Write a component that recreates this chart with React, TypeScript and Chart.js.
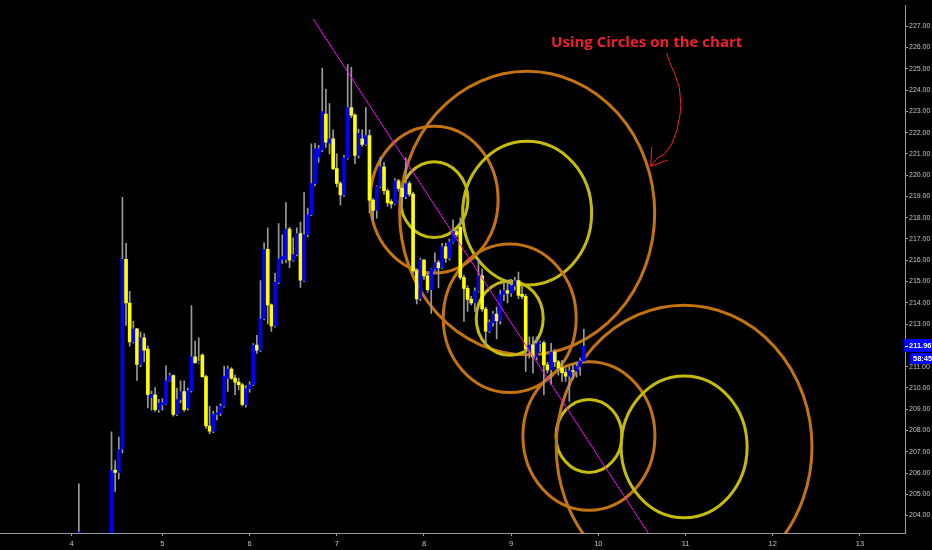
import React, { useEffect, useRef } from "react";
import { Chart, registerables } from "chart.js";

Chart.register(...registerables);

// ---- axis data ----
const dayTickBars = [0, 25, 49, 73, 97, 121, 145, 169, 193, 217];
const dayTickLabels = ["4", "5", "6", "7", "8", "9", "10", "11", "12", "13"];
const priceTicks = [204, 205, 206, 207, 208, 209, 210, 211, 212, 213, 214, 215, 216, 217, 218, 219, 220, 221, 222, 223, 224, 225, 226, 227];

// ---- hourly candles (bar index, OHLC) ----
const barIdx = [
  2, 11, 12, 13, 14, 15, 16, 17, 18, 19,
  20, 21, 22, 23, 24, 25, 26, 27, 28, 29,
  30, 31, 32, 33, 34, 35, 36, 37, 38, 39,
  40, 41, 42, 43, 44, 45, 46, 47, 48, 49,
  50, 51, 52, 53, 54, 55, 56, 57, 58, 59,
  60, 61, 62, 63, 64, 65, 66, 67, 68, 69,
  70, 71, 72, 73, 74, 75, 76, 77, 78, 79,
  80, 81, 82, 83, 84, 85, 86, 87, 88, 89,
  90, 91, 92, 93, 94, 95, 96, 97, 98, 99,
  100, 101, 102, 103, 104, 105, 106, 107, 108, 109,
  110, 111, 112, 113, 114, 115, 116, 117, 118, 119,
  120, 121, 122, 123, 124, 125, 126, 127, 128, 129,
  130, 131, 132, 133, 134, 135, 136, 137, 138, 139,
  140, 141,
];
const opens = [
  203.0, 202.9, 206.14, 206.03, 207.12, 216.04, 213.99, 212.16, 212.78, 211.11,
  212.35, 211.82, 209.55, 209.68, 208.98, 209.2, 209.24, 210.33, 210.58, 208.75,
  209.45, 209.83, 209.06, 209.87, 211.46, 211.19, 211.54, 210.53, 208.21, 207.97,
  208.75, 208.8, 209.14, 210.46, 210.89, 210.46, 210.27, 210.15, 209.22, 209.96,
  210.15, 212.01, 211.76, 213.25, 216.51, 213.9, 212.91, 214.96, 216.04, 216.04,
  217.47, 216.01, 216.27, 217.25, 215.04, 217.2, 218.14, 219.61, 220.85, 221.19,
  222.87, 221.51, 221.71, 220.31, 219.61, 219.07, 220.81, 223.18, 222.82, 220.93,
  221.71, 221.44, 221.86, 218.83, 218.34, 219.46, 220.39, 219.27, 218.76, 218.65,
  219.74, 219.38, 218.99, 219.61, 219.11, 215.5, 214.22, 216.01, 215.27, 214.62,
  215.57, 215.89, 215.65, 216.63, 216.1, 216.85, 217.35, 217.55, 215.19, 214.68,
  214.16, 214.0, 214.55, 215.27, 213.71, 212.67, 213.07, 213.47, 213.16, 214.39,
  214.58, 214.45, 214.8, 215.05, 214.4, 214.3, 211.78, 212.01, 211.46, 212.08,
  212.12, 211.08, 210.85, 211.69, 211.23, 210.94, 210.72, 210.55, 210.8, 210.77,
  210.99, 211.26,
];
const highs = [
  205.49, 207.93, 206.58, 207.69, 218.96, 216.8, 214.54, 213.13, 212.8, 212.63,
  212.55, 211.98, 209.85, 210.02, 209.46, 209.5, 211.04, 210.7, 210.61, 209.99,
  210.33, 210.33, 209.99, 213.87, 212.2, 212.35, 211.6, 210.6, 209.14, 208.9,
  209.14, 209.25, 211.03, 211.03, 210.95, 210.61, 210.46, 210.22, 210.11, 210.3,
  212.08, 212.47, 215.04, 216.82, 217.52, 213.95, 215.39, 217.72, 217.2, 218.71,
  217.55, 217.05, 217.52, 217.8, 219.18, 218.45, 221.47, 221.5, 221.4, 225.04,
  224.03, 223.37, 222.13, 221.0, 219.7, 220.93, 225.2, 225.07, 222.9, 222.17,
  222.13, 223.18, 222.13, 218.9, 219.5, 220.85, 220.6, 219.35, 218.85, 219.84,
  219.8, 219.45, 220.82, 219.7, 219.2, 215.6, 216.1, 216.05, 215.4, 215.6,
  216.35, 216.0, 216.8, 216.8, 217.0, 217.9, 217.5, 218.0, 215.3, 214.8,
  214.3, 214.7, 216.04, 215.6, 213.8, 213.2, 213.6, 213.8, 214.6, 215.0,
  215.0, 215.1, 215.2, 215.44, 214.8, 214.4, 212.4, 212.4, 212.4, 212.2,
  212.2, 211.2, 212.1, 211.8, 211.3, 211.3, 210.9, 211.0, 211.1, 211.2,
  211.4, 212.76,
];
const lows = [
  202.9, 202.8, 205.13, 205.72, 206.95, 212.94, 211.96, 212.1, 210.35, 211.0,
  211.23, 209.06, 208.95, 208.9, 208.85, 208.95, 209.2, 210.3, 208.67, 208.7,
  209.3, 208.9, 208.95, 209.8, 211.15, 211.15, 210.5, 208.1, 207.85, 207.9,
  208.5, 208.7, 209.1, 209.83, 210.4, 209.68, 209.9, 209.15, 209.1, 209.8,
  210.1, 211.62, 211.7, 213.2, 213.01, 212.66, 212.85, 214.9, 215.85, 215.89,
  215.65, 215.95, 216.2, 214.72, 215.0, 217.1, 218.1, 219.5, 220.6, 221.1,
  221.3, 221.0, 220.25, 219.45, 218.6, 219.0, 220.75, 222.7, 220.54, 220.8,
  221.35, 221.4, 218.22, 217.9, 217.98, 219.4, 219.1, 218.54, 218.45, 218.6,
  219.25, 218.53, 218.9, 219.0, 215.4, 213.95, 214.1, 215.1, 214.5, 213.5,
  215.5, 214.7, 215.6, 215.9, 216.0, 216.8, 217.1, 215.1, 213.12, 213.6,
  213.9, 213.6, 214.5, 213.6, 212.0, 212.6, 212.9, 212.3, 213.0, 214.1,
  214.0, 214.3, 214.6, 214.2, 214.2, 210.77, 211.4, 210.69, 211.3, 211.7,
  209.68, 210.7, 210.16, 211.0, 210.6, 210.3, 210.3, 209.37, 210.4, 210.5,
  210.6, 211.2,
];
const closes = [
  203.0, 206.11, 206.03, 207.09, 216.04, 213.99, 212.16, 212.78, 211.11, 212.35,
  211.78, 209.68, 209.7, 208.98, 209.29, 209.3, 210.33, 210.58, 208.75, 209.45,
  209.83, 208.98, 209.87, 211.46, 211.19, 211.25, 210.53, 208.21, 207.97, 208.75,
  208.83, 209.14, 210.53, 210.89, 210.46, 210.27, 210.15, 209.22, 209.96, 210.15,
  212.01, 211.78, 213.25, 216.51, 213.9, 212.91, 214.96, 216.07, 216.17, 217.47,
  216.01, 216.27, 217.25, 215.06, 217.2, 218.14, 219.61, 221.24, 221.24, 222.99,
  221.55, 221.71, 220.31, 219.61, 219.07, 220.81, 223.18, 222.82, 220.93, 221.97,
  221.44, 221.86, 218.83, 218.34, 219.46, 220.39, 219.27, 218.71, 218.65, 219.74,
  219.38, 218.99, 219.61, 219.11, 215.5, 214.18, 216.01, 215.27, 214.62, 215.57,
  215.89, 215.65, 216.63, 216.1, 216.85, 217.35, 217.2, 215.19, 214.68, 214.16,
  214.0, 214.55, 215.27, 213.71, 212.67, 213.07, 213.47, 213.16, 214.39, 214.58,
  214.45, 214.8, 215.05, 214.35, 214.3, 211.83, 212.01, 211.46, 212.08, 212.12,
  211.08, 210.85, 211.69, 211.23, 210.94, 210.72, 210.55, 210.8, 210.77, 211.0,
  211.26, 211.96,
];
const countdownLabel = "58:45";

// ---- drawn objects ----
const trendLineBars = [66.5, 160];
const trendLinePrices = [227.34, 202.84];

const circleBars = [99.8, 99.8, 125.4, 125.4, 120.6, 120.6, 142.4, 142.4, 168.6, 168.6];
const circlePrices = [218.85, 218.85, 218.22, 218.22, 213.28, 213.28, 207.74, 207.74, 207.23, 207.23];
const circleHalfWidths = [9.28, 17.6, 17.75, 35.1, 9.22, 18.3, 9.08, 18.17, 17.34, 35.2];
const circleHalfHeights = [1.78, 3.45, 3.38, 6.66, 1.75, 3.49, 1.72, 3.49, 3.33, 6.66];
const circleKinds = ["y", "o", "y", "o", "y", "o", "y", "o", "y", "o"];

const noteText = "Using Circles on the chart";
const noteBar = 158.3;
const notePrice = 226.04;
const arrowBars = [163.8, 164.7, 166.1, 167.3, 167.7, 167.5, 166.6, 165.2, 163.3, 161.1, 159.4];
const arrowPrices = [225.74, 225.28, 224.73, 224.11, 223.33, 222.87, 222.09, 221.47, 221.01, 220.78, 220.42];
const arrowHeadBars = [159.7, 159.4, 164.0];
const arrowHeadPrices = [221.32, 220.42, 220.7];

const BLUE = "#0000ff";
const YELLOW = "#ffff00";
const WICK = "#9a9a9a";
const AXIS = "#9a9a9a";
const LABEL = "#c4c4c4";
const ORANGE_RING = "#c4740e";
const YELLOW_RING = "#c4bc08";
const AXIS_FONT = '"Liberation Sans", Arial, sans-serif';

const bgPlugin = {
  id: "bg",
  beforeDraw(chart: any) {
    const { ctx, width, height } = chart;
    ctx.save();
    ctx.fillStyle = "#000";
    ctx.fillRect(0, 0, width, height);
    ctx.restore();
  },
};

const circlesPlugin = {
  id: "circles",
  beforeDatasetsDraw(chart: any) {
    const { ctx, chartArea: a } = chart;
    const x = chart.scales.x;
    const y = chart.scales.y;
    ctx.save();
    ctx.beginPath();
    ctx.rect(a.left, a.top, a.right - a.left, a.bottom - a.top);
    ctx.clip();
    ctx.lineWidth = 3;
    circleBars.forEach((cb, i) => {
      const cx = x.getPixelForValue(cb);
      const cy = y.getPixelForValue(circlePrices[i]);
      const rx = x.getPixelForValue(cb + circleHalfWidths[i]) - cx;
      const ry = y.getPixelForValue(circlePrices[i] - circleHalfHeights[i]) - cy;
      ctx.strokeStyle = circleKinds[i] === "o" ? ORANGE_RING : YELLOW_RING;
      ctx.beginPath();
      ctx.ellipse(cx, cy, rx, ry, 0, 0, Math.PI * 2);
      ctx.stroke();
    });
    ctx.restore();
  },
};

const notePlugin = {
  id: "note",
  afterDatasetsDraw(chart: any) {
    const { ctx } = chart;
    const x = chart.scales.x;
    const y = chart.scales.y;
    ctx.save();
    ctx.fillStyle = "#f0202a";
    ctx.font = 'bold 15px "Open Sans", "Liberation Sans", sans-serif';
    ctx.textAlign = "center";
    ctx.textBaseline = "alphabetic";
    ctx.fillText(noteText, x.getPixelForValue(noteBar), y.getPixelForValue(notePrice));
    ctx.strokeStyle = "#f0202a";
    ctx.lineWidth = 1;
    ctx.beginPath();
    arrowBars.forEach((b, i) => {
      const px = x.getPixelForValue(b);
      const py = y.getPixelForValue(arrowPrices[i]);
      if (i === 0) ctx.moveTo(px, py);
      else ctx.lineTo(px, py);
    });
    ctx.stroke();
    ctx.beginPath();
    arrowHeadBars.forEach((b, i) => {
      const px = x.getPixelForValue(b);
      const py = y.getPixelForValue(arrowHeadPrices[i]);
      if (i === 0) ctx.moveTo(px, py);
      else ctx.lineTo(px, py);
    });
    ctx.stroke();
    ctx.restore();
  },
};

const pricePlugin = {
  id: "priceTag",
  afterDraw(chart: any) {
    const { ctx, chartArea: a, width } = chart;
    const y = chart.scales.y;
    const last = closes[closes.length - 1];
    const py = Math.round(y.getPixelForValue(last));
    ctx.save();
    ctx.fillStyle = BLUE;
    ctx.fillRect(a.right - 1, py - 7, width - a.right + 1, 13);
    ctx.fillRect(a.right + 5, py + 7, width - a.right - 5, 11);
    ctx.fillStyle = "#fff";
    ctx.fillRect(a.right, py, 3, 1);
    ctx.font = "bold 7.5px " + AXIS_FONT;
    ctx.textBaseline = "middle";
    ctx.textAlign = "left";
    ctx.fillText(last.toFixed(2), a.right + 4, py);
    ctx.fillText(countdownLabel, a.right + 8, py + 12.5);
    ctx.restore();
  },
};

export default function App() {
  const ref = useRef<HTMLCanvasElement>(null);
  useEffect(() => {
    document.body.style.margin = "0";
    document.body.style.background = "#000";
    const canvas = ref.current;
    if (!canvas) return;
    const wicks = barIdx.map((b, i) => ({ x: b, y: [lows[i], highs[i]] }));
    const bodies = barIdx.map((b, i) => ({ x: b, y: [opens[i], closes[i]] }));
    const bodyColors = barIdx.map((_, i) => (closes[i] >= opens[i] ? BLUE : YELLOW));
    const chart = new Chart(canvas, {
      type: "bar",
      data: {
        datasets: [
          {
            type: "line",
            data: trendLineBars.map((b, i) => ({ x: b, y: trendLinePrices[i] })),
            borderColor: "#ff00ff",
            borderWidth: 1,
            pointRadius: 0,
            order: 0,
          } as any,
          {
            type: "bar",
            data: bodies as any,
            backgroundColor: bodyColors,
            borderWidth: 0,
            barThickness: 3,
            minBarLength: 1,
            grouped: false,
            order: 1,
          },
          {
            type: "bar",
            data: wicks as any,
            backgroundColor: WICK,
            borderWidth: 0,
            barThickness: 1,
            grouped: false,
            order: 2,
          },
        ],
      },
      options: {
        animation: false,
        responsive: false,
        devicePixelRatio: 1,
        layout: { padding: 0 },
        plugins: {
          legend: { display: false },
          tooltip: { enabled: false },
        },
        scales: {
          x: {
            type: "linear",
            position: "bottom",
            min: -19.7,
            max: 229.4,
            offset: false,
            afterBuildTicks: (axis: any) => {
              axis.ticks = dayTickBars.map((v) => ({ value: v }));
            },
            afterFit: (scale: any) => {
              scale.height = 17;
            },
            ticks: {
              autoSkip: false,
              maxRotation: 0,
              padding: 3,
              color: LABEL,
              font: { family: AXIS_FONT, size: 7.5 },
              callback: (v: any) => {
                const k = dayTickBars.indexOf(Number(v));
                return k >= 0 ? dayTickLabels[k] : "";
              },
            },
            grid: { display: true, offset: false, drawOnChartArea: false, drawTicks: true, tickLength: 3, color: AXIS },
            border: { display: true, color: AXIS },
          },
          y: {
            type: "linear",
            position: "right",
            min: 203.18,
            max: 227.99,
            afterBuildTicks: (axis: any) => {
              axis.ticks = priceTicks.map((v) => ({ value: v }));
            },
            afterFit: (scale: any) => {
              scale.width = 27;
            },
            ticks: {
              padding: 1,
              color: LABEL,
              font: { family: AXIS_FONT, size: 7 },
              callback: (v: any) => Number(v).toFixed(2),
            },
            grid: { display: true, offset: false, drawOnChartArea: false, drawTicks: true, tickLength: 3, color: AXIS },
            border: { display: true, color: AXIS },
          },
        },
      },
      plugins: [bgPlugin, circlesPlugin, notePlugin, pricePlugin],
    });
    return () => chart.destroy();
  }, []);
  return <canvas ref={ref} width={932} height={550} style={{ display: "block", width: 932, height: 550 }} />;
}
